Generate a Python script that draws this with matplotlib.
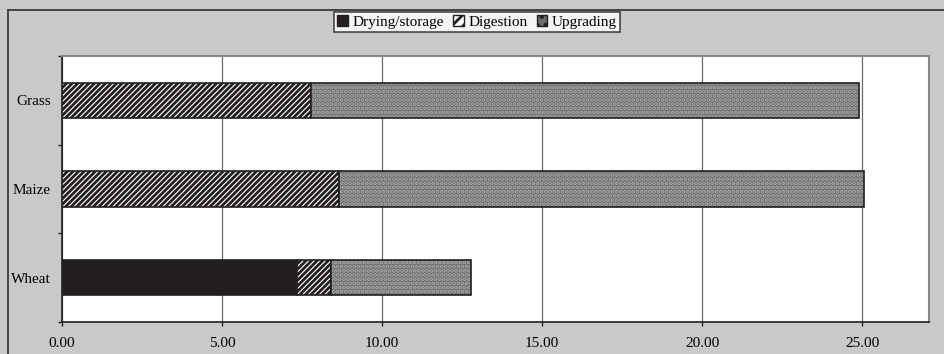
import numpy as np
import matplotlib.pyplot as plt
from matplotlib.lines import Line2D

crops = ['Wheat', 'Maize', 'Grass']
drying = [7.33, 0.0, 0.0]
digestion = [1.07, 8.66, 7.78]
upgrading = [4.37, 16.38, 17.12]
xticks = [0, 5, 10, 15, 20, 25]

plt.rcParams['font.family'] = ['Liberation Serif', 'DejaVu Serif']
plt.rcParams['hatch.linewidth'] = 2.0

fig = plt.figure(figsize=(9.44, 3.54), dpi=100, facecolor='#c8c9cb')
ax = fig.add_axes([62 / 944, 1 - 322 / 354, (929 - 62) / 944, (322 - 56) / 354])
ax.set_facecolor('white')

y = np.arange(len(crops))
h = 0.4
left1 = np.array(drying)
left2 = left1 + np.array(digestion)

ax.barh(y, drying, height=h, color='#231f20', edgecolor='#231f20', linewidth=1.2, zorder=3)
# digestion: black and white diagonal stripes
ax.barh(y, digestion, left=left1, height=h, facecolor='white', edgecolor='#231f20',
        hatch='//////', linewidth=1.2, zorder=3)
# upgrading: grey with light dots
ax.barh(y, upgrading, left=left2, height=h, facecolor='#6c6c6c', edgecolor='#a9a9a9',
        hatch='....', linewidth=0, zorder=3)
ax.barh(y, upgrading, left=left2, height=h, fill=False, edgecolor='#231f20', linewidth=1.2, zorder=4)

ax.set_xlim(0, 27.08)
ax.set_ylim(-0.5, 2.5)
ax.set_xticks(xticks)
ax.set_xticklabels([f'{v:.2f}' for v in xticks], fontsize=11)
ax.set_yticks(y)
ax.set_yticklabels(crops, fontsize=11)
ax.set_yticks([-0.5, 0.5, 1.5, 2.5], minor=True)
ax.tick_params(axis='y', which='major', length=0, pad=8)
ax.tick_params(axis='y', which='minor', length=3, width=1, color='#231f20')
ax.tick_params(axis='x', length=3, width=1, color='#231f20', pad=8)
ax.grid(axis='x', color='#6a6a6a', linewidth=0.9, zorder=1)

for s in ['top', 'right']:
    ax.spines[s].set_color('#8a8a8a')
    ax.spines[s].set_linewidth(1.5)
for s in ['left', 'bottom']:
    ax.spines[s].set_color('#231f20')
    ax.spines[s].set_linewidth(1.2)

handles = [
    plt.Rectangle((0, 0), 1, 1, facecolor='#231f20', edgecolor='#231f20'),
    plt.Rectangle((0, 0), 1, 1, facecolor='white', edgecolor='#231f20', hatch='///'),
    plt.Rectangle((0, 0), 1, 1, facecolor='#6c6c6c', edgecolor='#231f20', hatch='..'),
]
leg = fig.legend(handles, ['Drying/storage', 'Digestion', 'Upgrading'], loc='center',
                 bbox_to_anchor=(477 / 944, 1 - 22 / 354), ncol=3, fontsize=11,
                 frameon=True, fancybox=False, handlelength=0.7, handleheight=0.7,
                 handletextpad=0.3, columnspacing=0.6, borderpad=0.2)
leg.get_frame().set_edgecolor('#231f20')
leg.get_frame().set_linewidth(1.2)

# outer chart border (left and top visible)
fig.add_artist(Line2D([8 / 944, 8 / 944], [0, 1 - 10 / 354], color='#3a3a3a', linewidth=1.3,
                      transform=fig.transFigure))
fig.add_artist(Line2D([8 / 944, 1], [1 - 10 / 354, 1 - 10 / 354], color='#3a3a3a', linewidth=1.3,
                      transform=fig.transFigure))

fig.savefig('out.png', dpi=100, facecolor=fig.get_facecolor())
